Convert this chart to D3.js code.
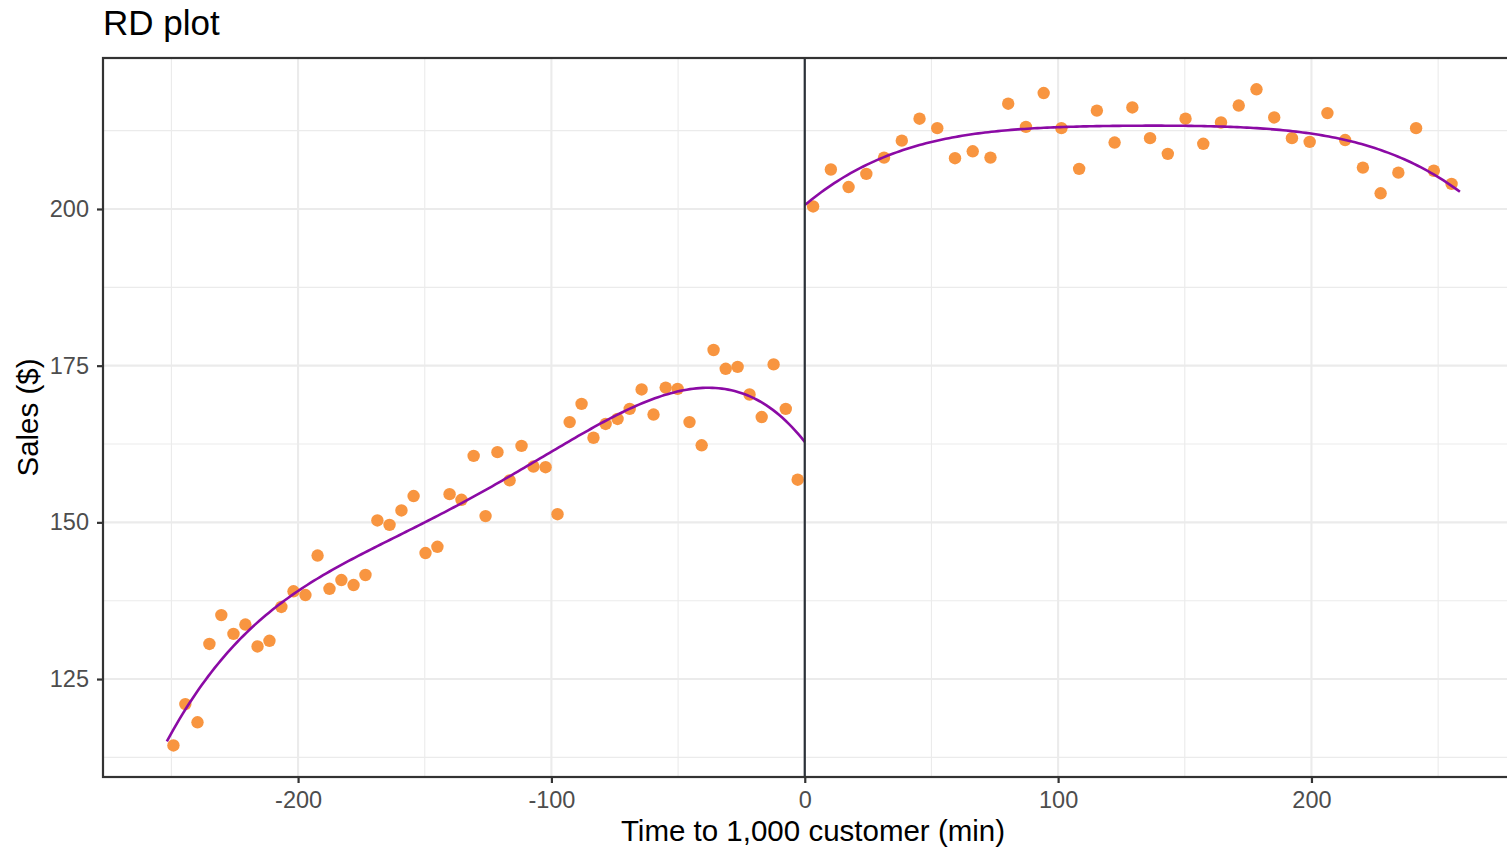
<!DOCTYPE html>
<html>
<head>
<meta charset="utf-8">
<script src="https://cdn.jsdelivr.net/npm/d3@7"></script>
<style>
  html, body { margin: 0; padding: 0; background: #ffffff; }
  svg { display: block; font-family: "Liberation Sans", Arial, sans-serif; }
</style>
</head>
<body>
<svg id="chart" width="1507" height="847"></svg>
<script>
// Binned sample means, left of the cutoff (time before reaching 1,000 customers)
const leftBinX = [-249.2, -244.5, -239.7, -235.0, -230.3, -225.5, -220.8, -216.0, -211.3, -206.6,
  -201.8, -197.1, -192.3, -187.6, -182.9, -178.1, -173.4, -168.7, -163.9, -159.2,
  -154.4, -149.7, -145.0, -140.2, -135.5, -130.7, -126.0, -121.3, -116.5, -111.8,
  -107.1, -102.3, -97.6, -92.8, -88.1, -83.4, -78.6, -73.9, -69.1, -64.4,
  -59.7, -54.9, -50.2, -45.5, -40.7, -36.0, -31.2, -26.5, -21.8, -17.0,
  -12.3, -7.5, -2.8];
const leftBinY = [114.4, 121.0, 118.1, 130.6, 135.2, 132.2, 133.7, 130.2, 131.1, 136.5,
  139.0, 138.4, 144.7, 139.4, 140.8, 140.0, 141.6, 150.3, 149.6, 151.9,
  154.2, 145.1, 146.1, 154.5, 153.6, 160.6, 151.0, 161.2, 156.7, 162.2,
  158.9, 158.8, 151.3, 166.0, 168.9, 163.5, 165.7, 166.5, 168.1, 171.2,
  167.2, 171.5, 171.3, 166.0, 162.3, 177.5, 174.5, 174.8, 170.4, 166.8,
  175.2, 168.1, 156.8];

// Binned sample means, right of the cutoff
const rightBinX = [3.3, 10.3, 17.3, 24.3, 31.3, 38.3, 45.3, 52.3, 59.3, 66.3,
  73.3, 80.3, 87.3, 94.3, 101.3, 108.3, 115.3, 122.3, 129.3, 136.3,
  143.3, 150.3, 157.3, 164.3, 171.3, 178.3, 185.3, 192.3, 199.3, 206.3,
  213.3, 220.3, 227.3, 234.3, 241.3, 248.3, 255.3];
const rightBinY = [200.4, 206.3, 203.5, 205.6, 208.2, 210.9, 214.4, 212.9, 208.1, 209.2,
  208.2, 216.8, 213.1, 218.5, 212.9, 206.4, 215.7, 210.6, 216.2, 211.3,
  208.8, 214.4, 210.4, 213.8, 216.5, 219.1, 214.6, 211.3, 210.7, 215.3,
  211.0, 206.6, 202.5, 205.8, 212.9, 206.1, 204.0];

// Running variable support and cutoff
const runMin = -251.8;
const runMax = 258.6;
const cutoff = 0;
const polyOrder = 4;

// Axis ticks
const xMajorTicks = [-200, -100, 0, 100, 200];
const xMinorTicks = [-250, -150, -50, 50, 150, 250];
const yMajorTicks = [125, 150, 175, 200];
const yMinorTicks = [112.5, 137.5, 162.5, 187.5, 212.5];

const titleText = "RD plot";
const xTitle = "Time to 1,000 customer (min)";
const yTitle = "Sales ($)";

// ---- polynomial least-squares fit (x rescaled for conditioning) ----
function polyFit(xs, ys, deg) {
  const s = 100;
  const n = deg + 1;
  const A = Array.from({length: n}, () => new Array(n + 1).fill(0));
  xs.forEach((x0, i) => {
    const x = x0 / s;
    const p = [];
    for (let k = 0; k < n; k++) p.push(Math.pow(x, k));
    for (let r = 0; r < n; r++) {
      for (let c = 0; c < n; c++) A[r][c] += p[r] * p[c];
      A[r][n] += p[r] * ys[i];
    }
  });
  for (let c = 0; c < n; c++) {
    let piv = c;
    for (let r = c + 1; r < n; r++) if (Math.abs(A[r][c]) > Math.abs(A[piv][c])) piv = r;
    [A[c], A[piv]] = [A[piv], A[c]];
    for (let r = 0; r < n; r++) {
      if (r === c) continue;
      const f = A[r][c] / A[c][c];
      for (let k = c; k <= n; k++) A[r][k] -= f * A[c][k];
    }
  }
  const coef = A.map((row, i) => row[n] / row[i]);
  return x => coef.reduce((acc, b, k) => acc + b * Math.pow(x / s, k), 0);
}

const fitLeft = polyFit(leftBinX, leftBinY, polyOrder);
const fitRight = polyFit(rightBinX, rightBinY, polyOrder);

function curve(f, a, b, m) {
  return d3.range(m + 1).map(i => {
    const x = a + (b - a) * i / m;
    return [x, f(x)];
  });
}
const leftCurve = curve(fitLeft, runMin, cutoff, 200);
const rightCurve = curve(fitRight, cutoff, runMax, 200);

// ---- layout ----
const svg = d3.select("#chart");
const panel = {left: 103, top: 58, right: 1523, bottom: 777};

const x = d3.scaleLinear().domain([-277, 283.5]).range([panel.left, panel.right]);
const y = d3.scaleLinear().domain([109.37, 224.09]).range([panel.bottom, panel.top]);

const grid = svg.append("g");
grid.selectAll(".vminor").data(xMinorTicks).join("line")
  .attr("x1", d => x(d)).attr("x2", d => x(d))
  .attr("y1", panel.top).attr("y2", panel.bottom)
  .attr("stroke", "#ebebeb").attr("stroke-width", 1.1);
grid.selectAll(".hminor").data(yMinorTicks).join("line")
  .attr("y1", d => y(d)).attr("y2", d => y(d))
  .attr("x1", panel.left).attr("x2", panel.right)
  .attr("stroke", "#ebebeb").attr("stroke-width", 1.1);
grid.selectAll(".vmajor").data(xMajorTicks).join("line")
  .attr("x1", d => x(d)).attr("x2", d => x(d))
  .attr("y1", panel.top).attr("y2", panel.bottom)
  .attr("stroke", "#ebebeb").attr("stroke-width", 2.1);
grid.selectAll(".hmajor").data(yMajorTicks).join("line")
  .attr("y1", d => y(d)).attr("y2", d => y(d))
  .attr("x1", panel.left).attr("x2", panel.right)
  .attr("stroke", "#ebebeb").attr("stroke-width", 2.1);

// bin means
const pts = svg.append("g");
const allBins = leftBinX.map((d, i) => [d, leftBinY[i]])
  .concat(rightBinX.map((d, i) => [d, rightBinY[i]]));
pts.selectAll("circle").data(allBins).join("circle")
  .attr("cx", d => x(d[0])).attr("cy", d => y(d[1]))
  .attr("r", 6.2).attr("fill", "#F89540");

// polynomial fits
const line = d3.line().x(d => x(d[0])).y(d => y(d[1]));
svg.append("g").selectAll("path").data([leftCurve, rightCurve]).join("path")
  .attr("d", line).attr("fill", "none")
  .attr("stroke", "#8B0AA5").attr("stroke-width", 2.6);

// cutoff line
svg.append("line")
  .attr("x1", x(cutoff)).attr("x2", x(cutoff))
  .attr("y1", panel.top).attr("y2", panel.bottom)
  .attr("stroke", "#2b3138").attr("stroke-width", 2.2);

// panel border
svg.append("rect")
  .attr("x", panel.left).attr("y", panel.top)
  .attr("width", panel.right - panel.left).attr("height", panel.bottom - panel.top)
  .attr("fill", "none").attr("stroke", "#333333").attr("stroke-width", 2.2);

// axes
const xAxis = d3.axisBottom(x).tickValues(xMajorTicks).tickSize(6).tickPadding(8).tickFormat(d3.format("d"));
const yAxis = d3.axisLeft(y).tickValues(yMajorTicks).tickSize(6).tickPadding(8).tickFormat(d3.format("d"));

const gx = svg.append("g").attr("transform", `translate(0,${panel.bottom})`).call(xAxis);
const gy = svg.append("g").attr("transform", `translate(${panel.left},0)`).call(yAxis);
[gx, gy].forEach(g => {
  g.select(".domain").remove();
  g.selectAll(".tick line").attr("stroke", "#333333").attr("stroke-width", 2.2);
  g.selectAll(".tick text").attr("fill", "#4d4d4d")
    .style("font-size", "23.5px").style("font-family", "Liberation Sans, Arial, sans-serif");
});
gx.selectAll(".tick text").text(d => d < 0 ? "-" + Math.abs(d) : String(d));

// titles
svg.append("text").attr("x", 103).attr("y", 34.5)
  .attr("fill", "#000").style("font-size", "35px").text(titleText);
svg.append("text").attr("x", (panel.left + panel.right) / 2).attr("y", 841)
  .attr("text-anchor", "middle").attr("fill", "#000").style("font-size", "29.5px").text(xTitle);
svg.append("text")
  .attr("transform", `translate(38,${(panel.top + panel.bottom) / 2}) rotate(-90)`)
  .attr("text-anchor", "middle").attr("fill", "#000").style("font-size", "29.5px").text(yTitle);
</script>
</body>
</html>
